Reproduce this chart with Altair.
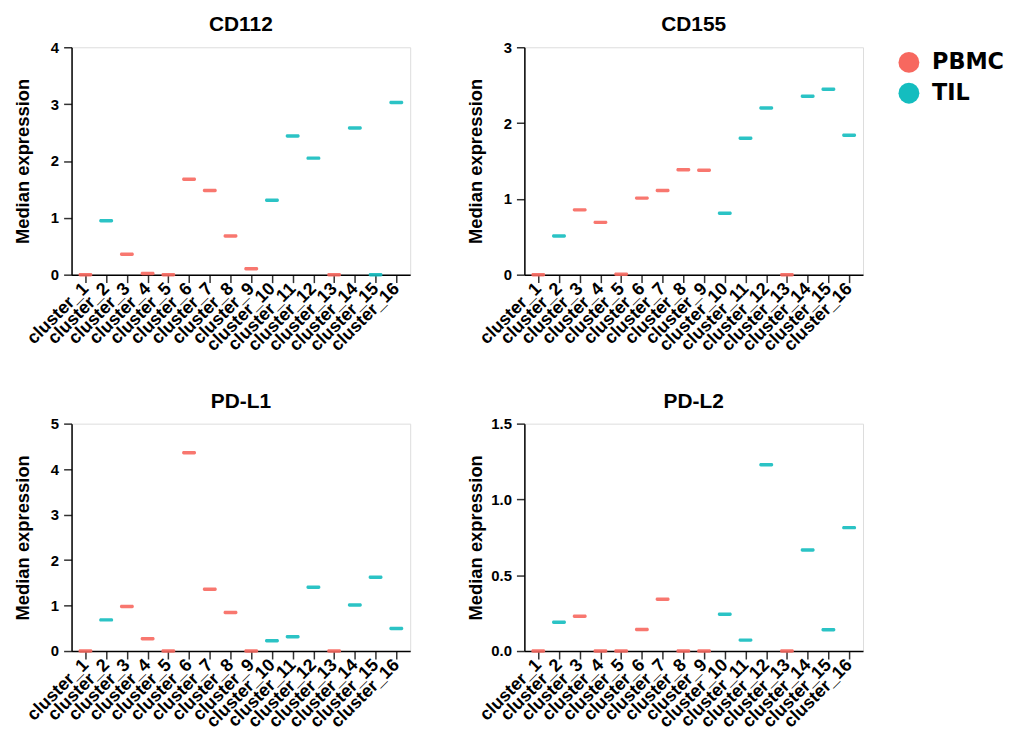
import altair as alt
import pandas as pd

clusters = ["cluster_1", "cluster_2", "cluster_3", "cluster_4", "cluster_5", "cluster_6",
            "cluster_7", "cluster_8", "cluster_9", "cluster_10", "cluster_11", "cluster_12",
            "cluster_13", "cluster_14", "cluster_15", "cluster_16"]
groups = ["PBMC", "TIL", "PBMC", "PBMC", "PBMC", "PBMC", "PBMC", "PBMC", "PBMC",
          "TIL", "TIL", "TIL", "PBMC", "TIL", "TIL", "TIL"]

cd112 = [0, 0.95, 0.36, 0.02, 0, 1.68, 1.48, 0.68, 0.105, 1.31, 2.44, 2.05, 0, 2.58, 0, 3.03]
cd155 = [0, 0.51, 0.855, 0.69, 0.005, 1.01, 1.11, 1.385, 1.377, 0.81, 1.80, 2.20, 0, 2.355, 2.447, 1.84]
pdl1 = [0, 0.685, 0.977, 0.27, 0, 4.36, 1.36, 0.845, 0, 0.226, 0.313, 1.40, 0, 1.01, 1.62, 0.495]
pdl2 = [0, 0.19, 0.23, 0, 0, 0.142, 0.341, 0, 0, 0.243, 0.072, 1.229, 0, 0.666, 0.14, 0.814]

group_domain = ["PBMC", "TIL"]
group_colors = ["#F7685F", "#14BDBF"]

FONT = "Liberation Sans"


def panel(title, values, ymax, ticks, fmt):
    df = pd.DataFrame({"cluster": clusters, "group": groups, "value": values})
    return (
        alt.Chart(df, title=alt.Title(title, font=FONT, fontSize=21, fontWeight="bold",
                                      offset=5, color="black"))
        .mark_tick(size=14, thickness=3.5, cornerRadius=1.5, opacity=0.9)
        .encode(
            x=alt.X("cluster:N", sort=clusters,
                    scale=alt.Scale(type="point", padding=0.67),
                    axis=alt.Axis(title=None, labelAngle=315, labelAlign="right",
                                  labelBaseline="middle", labelPadding=3,
                                  labelFont=FONT, labelFontSize=18, labelFontWeight="bold",
                                  labelColor="black", tickSize=8, tickWidth=1.5,
                                  tickColor="#333", domainColor="black", domainWidth=1.5,
                                  labelOverlap=False)),
            y=alt.Y("value:Q",
                    scale=alt.Scale(domain=[0, ymax], nice=False),
                    axis=alt.Axis(values=ticks, format=fmt, title="Median expression",
                                  titleFont=FONT, titleFontSize=18.5, titleFontWeight="bold",
                                  titleColor="black", titlePadding=5,
                                  minExtent=34, maxExtent=34,
                                  labelFont=FONT, labelFontSize=15, labelFontWeight="bold",
                                  labelColor="black", labelPadding=5,
                                  tickSize=8, tickWidth=1.5, tickColor="#333",
                                  domainColor="black", domainWidth=1.5, grid=False)),
            color=alt.Color("group:N",
                            scale=alt.Scale(domain=group_domain, range=group_colors),
                            legend=alt.Legend(title=None, orient="none", legendX=832, legendY=4,
                                              symbolType="circle", symbolSize=441,
                                              symbolStrokeWidth=0, symbolOpacity=1,
                                              labelFont="DejaVu Sans", labelFontSize=22.5,
                                              labelFontWeight="bold", labelColor="black",
                                              labelOffset=12, rowPadding=8, padding=0)),
        )
        .properties(width=341, height=229)
    )


p1 = panel("CD112", cd112, 4, [0, 1, 2, 3, 4], "d")
p2 = panel("CD155", cd155, 3, [0, 1, 2, 3], "d")
p3 = panel("PD-L1", pdl1, 5, [0, 1, 2, 3, 4, 5], "d")
p4 = panel("PD-L2", pdl2, 1.5, [0, 0.5, 1.0, 1.5], ".1f")

row1 = alt.hconcat(p1, p2, spacing=55)
row2 = alt.hconcat(p3, p4, spacing=55)

chart = (
    alt.vconcat(row1, row2, spacing=35)
    .properties(padding={"left": 5, "top": 3, "right": 0, "bottom": 0})
    .configure_view(stroke="#666", strokeWidth=1.5)
    .configure(background="white")
)

chart.save("out.html", embed_options={"renderer": "svg", "actions": False})
